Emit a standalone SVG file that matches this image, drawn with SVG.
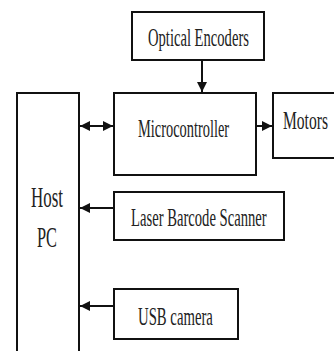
<svg xmlns="http://www.w3.org/2000/svg" width="334" height="351" viewBox="0 0 334 351">
<style>
.box{fill:#fff;stroke:#111;stroke-width:2}
.lbl{font-family:"Liberation Serif","Times New Roman",serif;font-size:25px;fill:#222}
.big{font-family:"Liberation Serif","Times New Roman",serif;font-size:30px;fill:#222}
.con{stroke:#111;stroke-width:2;fill:none}
</style>
<defs>
<marker id="ah" viewBox="0 0 10 10" refX="10" refY="5" markerWidth="10" markerHeight="10" markerUnits="userSpaceOnUse" orient="auto-start-reverse">
<path d="M0,0 L10,5 L0,10 Z" fill="#111"/>
</marker>
</defs>
<rect width="334" height="351" fill="#fff"/>
<g id="optical">
<rect class="box" x="132" y="12" width="132" height="48"/>
<text class="lbl" transform="translate(148,46) scale(0.584,1)">Optical Encoders</text>
</g>
<g id="host">
<rect class="box" x="17" y="93" width="62" height="270"/>
<text class="big" transform="translate(31,207) scale(0.565,1)">Host</text>
<text class="big" transform="translate(37,247) scale(0.545,1)">PC</text>
</g>
<g id="micro">
<rect class="box" x="114" y="93" width="142" height="82"/>
<text class="lbl" transform="translate(138,137) scale(0.576,1)">Microcontroller</text>
</g>
<g id="motors">
<rect class="box" x="273" y="93" width="70" height="65"/>
<text class="lbl" transform="translate(283,129) scale(0.623,1)">Motors</text>
</g>
<g id="laser">
<rect class="box" x="114" y="192" width="170" height="48"/>
<text class="lbl" transform="translate(131,226) scale(0.586,1)">Laser Barcode Scanner</text>
</g>
<g id="usb">
<rect class="box" x="114" y="289" width="124" height="50"/>
<text class="lbl" transform="translate(138,325) scale(0.59,1)">USB camera</text>
</g>
<g id="connectors">
<line class="con" x1="202" y1="60" x2="202" y2="92" marker-end="url(#ah)"/>
<line class="con" x1="80" y1="126" x2="113" y2="126" marker-start="url(#ah)" marker-end="url(#ah)"/>
<line class="con" x1="256" y1="126" x2="272" y2="126" marker-end="url(#ah)"/>
<line class="con" x1="114" y1="208" x2="80" y2="208" marker-end="url(#ah)"/>
<line class="con" x1="114" y1="306" x2="80" y2="306" marker-end="url(#ah)"/>
</g>
</svg>
